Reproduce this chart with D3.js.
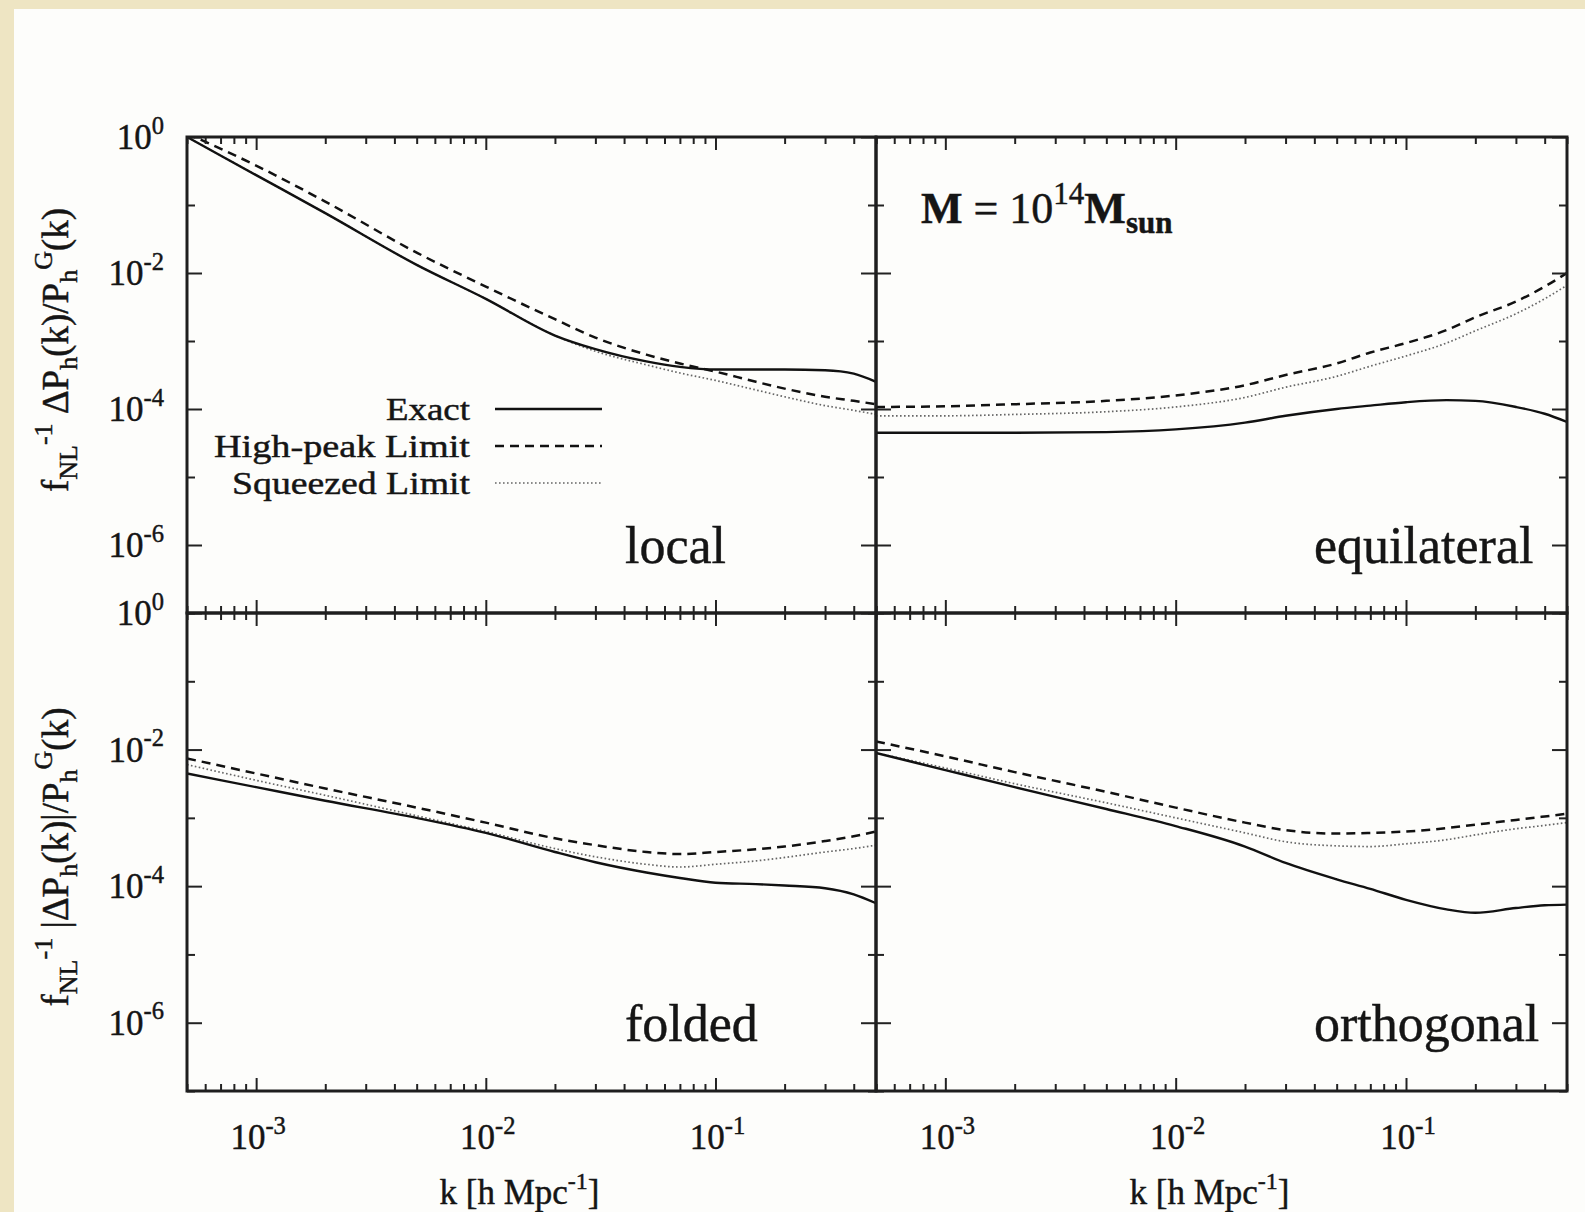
<!DOCTYPE html>
<html>
<head>
<meta charset="utf-8">
<script src="https://cdn.jsdelivr.net/npm/d3@7"></script>
<style>
  body { margin: 0; background: #eee5c3; }
  svg text { font-family: "Liberation Serif", "Times New Roman", serif; fill: #151515; stroke: #151515; stroke-width: 0.45px; }
</style>
</head>
<body>
<svg id="chart" width="1585" height="1212"></svg>
<script>
// k sampling points [h/Mpc]
const kGrid = [5e-4, 1e-3, 2e-3, 5e-3, 1e-2, 2e-2, 3e-2, 5e-2, 7e-2, 0.1, 0.15, 0.2, 0.3, 0.4, 0.5];

// log10 of f_NL^-1 dP_h/P_h^G
const localExact    = [0, -0.56, -1.12, -1.88, -2.38, -2.92, -3.12, -3.30, -3.38, -3.42, -3.42, -3.42, -3.43, -3.48, -3.60];
const localHighPeak = [0.05, -0.42, -0.95, -1.70, -2.20, -2.68, -2.95, -3.20, -3.33, -3.45, -3.60, -3.70, -3.82, -3.88, -3.93];
const localSqueezed = [0, -0.56, -1.12, -1.88, -2.38, -2.92, -3.15, -3.35, -3.47, -3.58, -3.72, -3.82, -3.95, -4.02, -4.08];

const equilExact    = [-4.35, -4.35, -4.35, -4.34, -4.30, -4.20, -4.10, -4.00, -3.95, -3.90, -3.87, -3.88, -3.97, -4.07, -4.19];
const equilHighPeak = [-3.97, -3.96, -3.93, -3.88, -3.80, -3.65, -3.50, -3.33, -3.17, -3.03, -2.84, -2.65, -2.42, -2.20, -2.00];
const equilSqueezed = [-4.10, -4.10, -4.08, -4.04, -3.97, -3.83, -3.68, -3.52, -3.37, -3.22, -3.03, -2.85, -2.60, -2.38, -2.18];

const foldedExact    = [-2.35, -2.55, -2.75, -3.00, -3.22, -3.50, -3.65, -3.80, -3.88, -3.95, -3.97, -3.99, -4.03, -4.12, -4.25];
const foldedHighPeak = [-2.13, -2.35, -2.57, -2.85, -3.07, -3.30, -3.40, -3.50, -3.53, -3.50, -3.46, -3.42, -3.34, -3.27, -3.20];
const foldedSqueezed = [-2.22, -2.45, -2.67, -2.97, -3.20, -3.45, -3.57, -3.68, -3.72, -3.68, -3.63, -3.58, -3.50, -3.45, -3.40];

const orthoExact    = [-2.05, -2.30, -2.55, -2.87, -3.12, -3.42, -3.66, -3.90, -4.04, -4.20, -4.34, -4.39, -4.32, -4.28, -4.27];
const orthoHighPeak = [-1.88, -2.10, -2.33, -2.62, -2.85, -3.07, -3.18, -3.23, -3.22, -3.20, -3.15, -3.10, -3.03, -2.98, -2.94];
const orthoSqueezed = [-2.05, -2.27, -2.50, -2.78, -3.00, -3.22, -3.35, -3.41, -3.42, -3.38, -3.32, -3.25, -3.16, -3.11, -3.07];

const seriesNames = ["Exact", "High-peak Limit", "Squeezed Limit"];
const xMajorTicks = [1e-3, 1e-2, 1e-1];
const yMajorExp = [0, -2, -4, -6];
const yMinorExp = [-1, -3, -5, -7];

const svg = d3.select("#chart");

// cream page with the white card
svg.append("rect").attr("width", 1585).attr("height", 1212).attr("fill", "#eee5c3");
svg.append("rect").attr("x", 14).attr("y", 9).attr("width", 1585 - 14).attr("height", 1212 - 9)
  .attr("fill", "#fdfdfb");

const colX = [[187, 876], [876, 1567]];
const rowY = [[137, 613], [613, 1091]];

const panels = [
  { name: "local", col: 0, row: 0, data: [localExact, localHighPeak, localSqueezed] },
  { name: "equilateral", col: 1, row: 0, data: [equilExact, equilHighPeak, equilSqueezed] },
  { name: "folded", col: 0, row: 1, data: [foldedExact, foldedHighPeak, foldedSqueezed] },
  { name: "orthogonal", col: 1, row: 1, data: [orthoExact, orthoHighPeak, orthoSqueezed] }
];

const styles = [
  { stroke: "#111", width: 2.4, dash: null },
  { stroke: "#111", width: 2.5, dash: "9,6" },
  { stroke: "#666", width: 1.7, dash: "1.6,2.4" }
];

const xMinorTicks = [];
for (let e = -4; e <= -1; e++) {
  for (let m = 2; m <= 9; m++) {
    const v = m * Math.pow(10, e);
    if (v >= 5e-4 && v <= 0.5) xMinorTicks.push(v);
  }
}

function drawTicks(g, axisFn, scale, values, len, transform) {
  g.append("g")
    .attr("transform", transform)
    .call(axisFn(scale).tickValues(values).tickSize(-len).tickFormat(() => ""))
    .call(s => s.select(".domain").remove())
    .call(s => s.selectAll("line").attr("stroke", "#222").attr("stroke-width", 2));
}

function powerLabel(sel, exp, size) {
  sel.append("tspan").text("10");
  sel.append("tspan").attr("font-size", size * 0.7).attr("dy", -size * 0.44).text(exp);
}

panels.forEach((p, i) => {
  const [x0, x1] = colX[p.col];
  const [y0, y1] = rowY[p.row];
  const x = d3.scaleLog().domain([5e-4, 0.5]).range([x0, x1]);
  const y = d3.scaleLog().domain([1e-7, 1]).range([y1, y0]);
  const g = svg.append("g");

  g.append("clipPath").attr("id", "clip" + i)
    .append("rect").attr("x", x0).attr("y", y0).attr("width", x1 - x0).attr("height", y1 - y0);

  const line = d3.line()
    .x(d => x(d.k))
    .y(d => y(d.v))
    .curve(d3.curveMonotoneX);

  // squeezed drawn first so the solid sits on top
  [2, 1, 0].forEach(s => {
    const pts = kGrid.map((k, j) => ({ k, v: Math.pow(10, p.data[s][j]) }));
    g.append("path")
      .attr("clip-path", `url(#clip${i})`)
      .attr("d", line(pts))
      .attr("fill", "none")
      .attr("stroke", styles[s].stroke)
      .attr("stroke-width", styles[s].width)
      .attr("stroke-dasharray", styles[s].dash);
  });

  // ticks on all four sides, pointing inward
  const yMaj = yMajorExp.map(e => Math.pow(10, e));
  const yMin = yMinorExp.map(e => Math.pow(10, e));
  drawTicks(g, d3.axisBottom, x, xMajorTicks, 13, `translate(0,${y1})`);
  drawTicks(g, d3.axisBottom, x, xMinorTicks, 7, `translate(0,${y1})`);
  drawTicks(g, d3.axisTop, x, xMajorTicks, 13, `translate(0,${y0})`);
  drawTicks(g, d3.axisTop, x, xMinorTicks, 7, `translate(0,${y0})`);
  drawTicks(g, d3.axisLeft, y, yMaj, 15, `translate(${x0},0)`);
  drawTicks(g, d3.axisLeft, y, yMin, 8, `translate(${x0},0)`);
  drawTicks(g, d3.axisRight, y, yMaj, 15, `translate(${x1},0)`);
  drawTicks(g, d3.axisRight, y, yMin, 8, `translate(${x1},0)`);

  g.append("rect").attr("x", x0).attr("y", y0).attr("width", x1 - x0).attr("height", y1 - y0)
    .attr("fill", "none").attr("stroke", "#1e1e1e").attr("stroke-width", 3);

  // y tick labels on the left column only
  if (p.col === 0) {
    yMajorExp.forEach(e => {
      const t = svg.append("text")
        .attr("x", 164).attr("y", y(Math.pow(10, e)) + 12)
        .attr("text-anchor", "end").attr("font-size", 35);
      powerLabel(t, e, 35);
    });
  }
  // x tick labels on the bottom row
  if (p.row === 1) {
    xMajorTicks.forEach(v => {
      const t = svg.append("text")
        .attr("x", x(v) + 2).attr("y", 1149)
        .attr("text-anchor", "middle").attr("font-size", 35);
      powerLabel(t, Math.round(Math.log10(v)), 35);
    });
    const xt = svg.append("text")
      .attr("x", (x0 + x1) / 2 - 12).attr("y", 1204)
      .attr("text-anchor", "middle").attr("font-size", 35);
    xt.append("tspan").text("k [h Mpc");
    xt.append("tspan").attr("font-size", 24).attr("dy", -15).text("-1");
    xt.append("tspan").attr("dy", 15).text("]");
  }

  // panel name
  svg.append("text")
    .attr("x", x0 + 438).attr("y", p.row === 0 ? 563 : 1041)
    .attr("font-size", 52)
    .text(p.name);
});

// legend in the local panel
const legendY = [420, 457, 494];
seriesNames.forEach((name, s) => {
  svg.append("text")
    .attr("x", 470).attr("y", legendY[s])
    .attr("text-anchor", "end").attr("font-size", 32)
    .attr("textLength", [84, 256, 238][s]).attr("lengthAdjust", "spacingAndGlyphs")
    .text(name);
  svg.append("line")
    .attr("x1", 495).attr("x2", 602)
    .attr("y1", legendY[s] - 11).attr("y2", legendY[s] - 11)
    .attr("stroke", styles[s].stroke)
    .attr("stroke-width", styles[s].width)
    .attr("stroke-dasharray", styles[s].dash);
});

// mass label
const mt = svg.append("text").attr("x", 921).attr("y", 223).attr("font-size", 44);
mt.append("tspan").attr("font-weight", "bold").text("M");
mt.append("tspan").text(" = 10");
mt.append("tspan").attr("font-size", 31).attr("dy", -19).text("14");
mt.append("tspan").attr("font-weight", "bold").attr("dy", 19).text("M");
mt.append("tspan").attr("font-weight", "bold").attr("font-size", 31).attr("dy", 10).text("sun");

// y axis titles
function yTitle(cy, abs) {
  const t = svg.append("text")
    .attr("transform", `translate(68,${cy}) rotate(-90)`)
    .attr("text-anchor", "middle").attr("font-size", 37);
  t.append("tspan").text("f");
  t.append("tspan").attr("font-size", 26).attr("dy", 9).text("NL");
  t.append("tspan").attr("font-size", 26).attr("dy", -25).text("-1");
  t.append("tspan").attr("dy", 16).text(abs ? " |ΔP" : " ΔP");
  t.append("tspan").attr("font-size", 26).attr("dy", 9).text("h");
  t.append("tspan").attr("dy", -9).text(abs ? "(k)|/P" : "(k)/P");
  t.append("tspan").attr("font-size", 26).attr("dy", 9).text("h");
  t.append("tspan").attr("font-size", 26).attr("dy", -25).text("G");
  t.append("tspan").attr("dy", 16).text("(k)");
}
yTitle(350, false);
yTitle(857, true);
</script>
</body>
</html>
